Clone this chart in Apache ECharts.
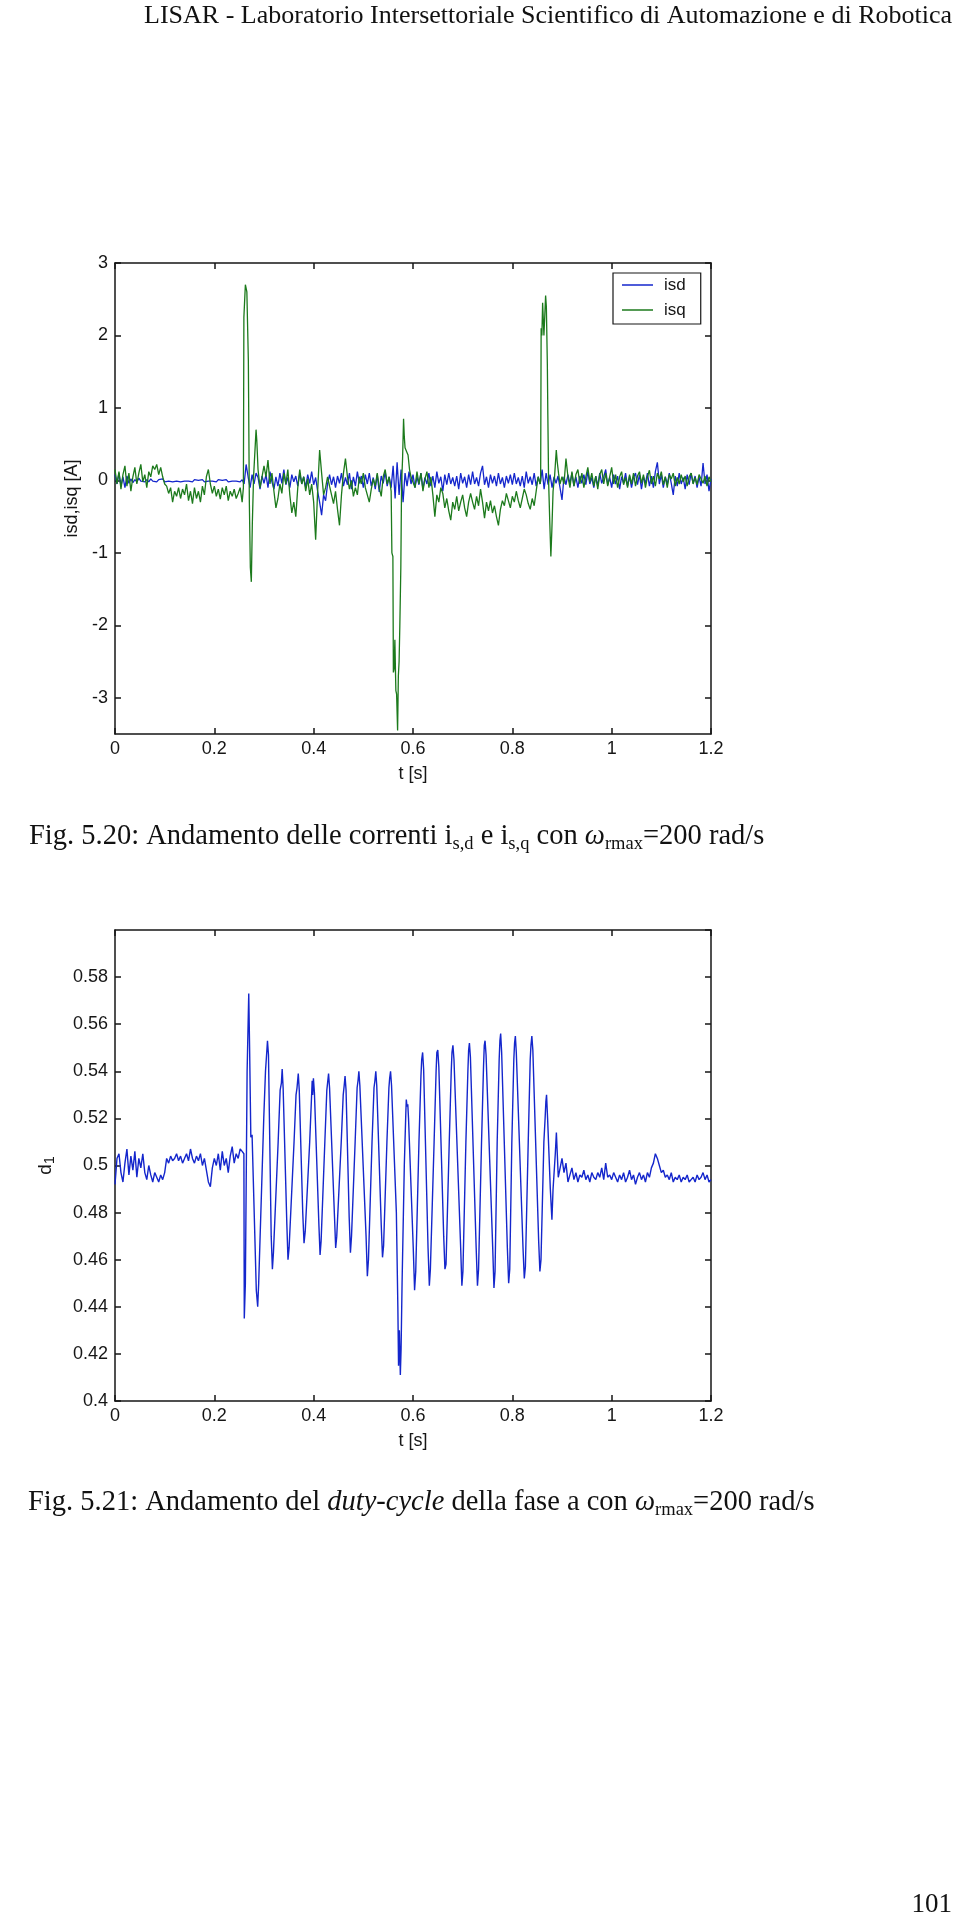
<!DOCTYPE html>
<html>
<head>
<meta charset="utf-8">
<script src="https://cdn.jsdelivr.net/npm/echarts@6/dist/echarts.min.js"></script>
<style>
html,body{margin:0;padding:0;background:#fff;}
#chart{width:960px;height:1920px;}
</style>
</head>
<body>
<div id="chart"></div>
<script>
// ---------------- DATA ----------------
const T_STEP = 0.004; // sampling step of the uniform arrays [s]
const xTicks = [0, 0.2, 0.4, 0.6, 0.8, 1, 1.2];
const yTicksCurrents = [-3, -2, -1, 0, 1, 2, 3];
const seriesNames = ['isd', 'isq'];

// isd [A], sampled every 4 ms from t = 0
const isdValues = [
 0.08,-0.05,0.1,-0.08,0.05,-0.1,0.06,-0.04,0.02,-0.03,
 0.01,-0.02,0.03,-0.01,0.0,-0.02,0.01,-0.02,0.02,-0.01,
 0.0,-0.02,0.01,-0.01,0.02,-0.02,0.0,-0.01,0.01,-0.02,
 0.0,-0.01,0.01,-0.02,0.0,-0.01,0.01,-0.01,0.0,-0.02,
 0.01,-0.01,0.0,-0.01,0.01,-0.02,0.0,-0.01,0.01,-0.01,
 0.0,-0.02,0.01,-0.01,0.0,-0.01,0.01,-0.02,0.0,-0.01,
 0.01,-0.01,0.0,-0.02,0.01,-0.05,0.22,0.05,-0.1,0.08,
 -0.05,0.1,0.04,-0.12,0.06,-0.04,0.08,-0.1,0.12,-0.02,
 -0.12,0.05,-0.08,0.1,-0.04,0.15,-0.06,0.04,-0.1,0.08,
 -0.02,0.06,-0.08,0.1,-0.05,0.05,-0.1,0.08,-0.04,0.12,
 -0.06,0.04,-0.15,-0.3,-0.48,-0.2,-0.28,-0.05,0.08,-0.06,
 0.05,-0.1,0.06,-0.04,0.1,-0.08,0.04,-0.06,0.1,-0.12,
 0.05,-0.08,0.12,-0.04,0.06,-0.1,0.08,-0.05,0.1,-0.08,
 0.04,-0.12,0.08,-0.16,0.06,-0.04,0.12,-0.08,0.05,-0.1,
 0.2,-0.25,0.25,-0.2,0.15,-0.3,0.1,-0.08,0.12,-0.05,
 0.08,-0.1,0.05,-0.06,0.1,-0.12,0.04,-0.05,0.1,-0.08,
 0.06,-0.1,0.12,-0.04,0.05,-0.15,0.08,-0.06,0.1,-0.05,
 0.04,-0.08,0.06,-0.12,0.1,-0.04,0.05,-0.1,0.08,-0.06,
 0.12,-0.05,0.04,-0.08,0.1,0.2,-0.06,0.05,-0.1,0.08,
 -0.04,0.06,-0.08,0.1,-0.05,0.04,-0.1,0.06,-0.04,0.08,
 -0.06,0.1,-0.05,0.04,-0.08,0.06,-0.1,0.12,-0.04,0.05,
 -0.06,0.1,-0.08,0.05,-0.05,0.15,-0.12,0.1,-0.06,0.08,
 -0.1,0.05,-0.04,0.06,-0.1,-0.27,0.05,-0.06,0.08,-0.04,
 0.1,-0.08,0.05,-0.1,0.06,-0.04,0.08,-0.06,0.12,-0.05,
 0.04,-0.1,0.06,-0.08,0.1,-0.04,0.05,0.15,-0.06,0.04,
 -0.1,0.08,-0.05,0.06,-0.12,0.05,-0.04,0.1,-0.08,0.06,
 -0.1,0.04,0.1,-0.06,0.08,-0.12,0.05,-0.04,0.1,-0.08,
 0.06,-0.1,0.12,0.25,-0.05,0.08,-0.1,0.05,-0.06,0.1,
 -0.04,-0.2,0.06,-0.08,0.1,-0.05,0.04,-0.12,0.08,-0.06,
 0.1,-0.04,0.06,-0.1,0.05,-0.08,0.24,-0.05,0.08,-0.15,
 0.02
];

// isq [A], sampled every 4 ms from t = 0 (null where the fast transients are given below)
const isqValues = [
 0.15,-0.05,0.12,-0.12,0.08,0.2,-0.08,0.1,-0.15,0.05,
 0.18,-0.05,0.1,0.22,-0.02,0.08,-0.1,0.12,0.05,0.2,
 0.15,0.22,0.08,0.18,0.05,-0.05,-0.08,-0.18,-0.1,-0.3,
 -0.15,-0.22,-0.1,-0.25,-0.12,-0.2,-0.05,-0.28,-0.15,-0.32,
 -0.1,-0.25,-0.15,-0.3,-0.08,-0.2,0.05,0.15,-0.05,-0.18,
 -0.08,-0.22,-0.12,-0.26,-0.1,-0.2,-0.08,-0.28,-0.15,-0.22,
 -0.12,-0.25,-0.18,-0.1,-0.3,null,null,null,null,null,
 null,null,null,-0.1,0.05,0.2,0.05,0.28,-0.05,0.1,
 -0.15,-0.38,-0.25,-0.05,-0.18,0.1,-0.05,0.15,-0.2,-0.45,
 -0.3,-0.5,-0.1,0.15,-0.05,0.05,-0.15,0.02,-0.2,-0.05,
 -0.3,-0.82,-0.15,0.42,0.1,-0.2,-0.1,0.05,-0.08,-0.2,
 -0.32,-0.15,-0.4,-0.62,-0.2,0.1,0.3,0.05,-0.12,0.0,
 -0.22,-0.1,-0.2,0.05,-0.05,0.1,-0.1,-0.2,-0.3,-0.12,
 0.02,-0.08,0.1,-0.1,-0.22,0.05,0.15,-0.05,0.05,-0.15,
 null,null,null,null,null,null,null,null,null,null,
 0.05,-0.1,0.12,-0.05,0.1,-0.15,0.02,0.12,-0.1,0.05,
 -0.2,-0.5,-0.2,-0.3,-0.1,-0.18,-0.38,-0.25,-0.42,-0.55,
 -0.3,-0.4,-0.22,-0.42,-0.3,-0.2,-0.38,-0.5,-0.3,-0.18,
 -0.3,-0.4,-0.22,-0.35,-0.12,-0.3,-0.52,-0.3,-0.42,-0.28,
 -0.45,-0.35,-0.5,-0.62,-0.4,-0.28,-0.35,-0.18,-0.28,-0.38,
 -0.22,-0.3,-0.15,-0.28,-0.38,-0.25,-0.12,-0.2,-0.32,-0.4,
 -0.25,-0.35,-0.15,0.05,-0.05,null,null,null,null,null,
 null,null,null,null,null,0.05,-0.05,0.3,0.05,-0.1,
 0.12,-0.08,0.08,0.15,-0.05,0.1,-0.1,0.05,0.18,-0.02,
 0.1,-0.08,0.06,-0.12,0.08,0.15,-0.05,0.1,-0.08,0.05,
 0.18,-0.05,0.08,-0.1,0.05,0.12,-0.06,0.04,-0.1,0.08,
 -0.05,0.1,-0.08,0.06,0.12,-0.04,0.08,-0.1,0.05,0.14,
 -0.05,0.06,-0.08,0.1,0.02,0.12,-0.06,0.05,-0.1,0.08,
 0.02,0.1,-0.08,0.04,-0.05,0.08,-0.02,0.06,-0.08,0.05,
 0.1,-0.05,0.04,-0.06,0.08,0.02,-0.04,0.06,-0.08,0.05,
 -0.02
];

// isq fast transients [t, A]
const isqTransients = [
 [0.2585,-0.1],[0.2595,2.25],[0.2625,2.7],[0.2635,2.72],[0.2655,2.6],[0.2685,1.65],
 [0.2705,-0.3],[0.2725,-1.2],[0.2745,-1.4],[0.2765,-0.6],[0.279,0.05],[0.2825,0.5],
 [0.284,0.7],[0.2855,0.55],[0.288,0.15],
 [0.5575,-1.0],[0.5595,-1.05],[0.5605,-2.65],[0.562,-2.6],[0.5635,-2.2],[0.5655,-2.9],
 [0.567,-2.95],[0.569,-3.45],[0.5705,-2.7],[0.572,-2.5],[0.5735,-2.0],[0.5755,-1.2],
 [0.577,-0.05],[0.579,0.3],[0.581,0.85],[0.5825,0.6],[0.584,0.45],[0.587,0.4],
 [0.59,0.35],[0.593,0.15],[0.596,0.05],
 [0.857,0.0],[0.858,2.1],[0.8595,2.0],[0.861,2.45],[0.8625,2.2],[0.8636,2.0],
 [0.8655,2.3],[0.867,2.55],[0.8685,2.4],[0.8705,1.6],[0.8715,0.9],[0.873,0.0],
 [0.8755,-0.6],[0.8776,-1.05],[0.8795,-0.7],[0.882,-0.15],[0.885,0.05],[0.8885,0.42],
 [0.8905,0.25],[0.893,0.1],[0.896,-0.05]
];

// d1 duty cycle: before the transient, every 4 ms from t = 0
const d1Before = [
 0.492,0.503,0.505,0.497,0.493,0.501,0.507,0.496,0.504,0.498,
 0.506,0.495,0.503,0.499,0.505,0.497,0.494,0.5,0.496,0.493,
 0.497,0.495,0.493,0.496,0.494,0.497,0.503,0.501,0.504,0.502,
 0.503,0.505,0.502,0.504,0.501,0.503,0.505,0.502,0.507,0.503,
 0.501,0.504,0.502,0.505,0.5,0.503,0.498,0.493,0.491,0.499,
 0.503,0.5,0.505,0.498,0.506,0.5,0.503,0.497,0.504,0.508,
 0.501,0.505,0.503,0.507,0.506
];
// d1 oscillating part [t, d1]
const d1Oscillation = [
 [0.2595,0.505],[0.2603,0.435],[0.2625,0.45],[0.266,0.54],[0.2693,0.573],[0.271,0.55],[0.2735,0.512],[0.276,0.513],
 [0.2845,0.447],[0.2873,0.440],[0.2893,0.45],
 [0.2995,0.52],[0.303,0.54],[0.3055,0.548],[0.307,0.553],[0.309,0.547],
 [0.3145,0.47],[0.3169,0.456],[0.319,0.463],
 [0.3285,0.51],[0.3325,0.532],[0.335,0.535],[0.3366,0.541],[0.3385,0.533],
 [0.346,0.475],[0.3483,0.460],[0.3505,0.465],
 [0.3605,0.51],[0.3645,0.53],[0.3665,0.533],[0.369,0.539],[0.371,0.532],
 [0.378,0.48],[0.3806,0.467],[0.383,0.472],
 [0.392,0.51],[0.3955,0.528],[0.397,0.536],[0.398,0.53],[0.3995,0.537],[0.4015,0.531],
 [0.4105,0.475],[0.4129,0.462],[0.415,0.468],
 [0.4225,0.51],[0.4265,0.532],[0.428,0.535],[0.43,0.539],[0.432,0.533],
 [0.442,0.478],[0.4443,0.465],[0.4465,0.47],
 [0.4555,0.51],[0.4595,0.53],[0.4615,0.534],[0.4632,0.538],[0.4652,0.532],
 [0.4715,0.478],[0.474,0.463],[0.4762,0.47],
 [0.4835,0.51],[0.4875,0.533],[0.4893,0.536],[0.491,0.54],[0.493,0.534],
 [0.5055,0.47],[0.5081,0.453],[0.5103,0.46],
 [0.5175,0.51],[0.5215,0.533],[0.5233,0.536],[0.5251,0.540],[0.527,0.534],
 [0.536,0.475],[0.5386,0.461],[0.5408,0.466],
 [0.5475,0.51],[0.5515,0.533],[0.553,0.537],[0.5548,0.540],[0.5568,0.534],
 [0.5665,0.48],[0.5695,0.44],[0.5709,0.415],[0.5725,0.43],[0.5745,0.411],[0.576,0.422],[0.578,0.45],
 [0.5825,0.5],[0.5855,0.522],[0.5865,0.528],[0.588,0.525],[0.5895,0.526],[0.591,0.52],
 [0.6005,0.465],[0.6032,0.447],[0.6055,0.455],
 [0.612,0.51],[0.616,0.538],[0.6175,0.545],[0.6194,0.548],[0.6214,0.541],
 [0.6303,0.465],[0.6329,0.449],[0.635,0.456],
 [0.6425,0.51],[0.6465,0.54],[0.648,0.548],[0.6499,0.549],[0.652,0.542],
 [0.6618,0.47],[0.6643,0.456],[0.6665,0.458],
 [0.673,0.51],[0.677,0.54],[0.6785,0.548],[0.6804,0.551],[0.6825,0.545],
 [0.696,0.465],[0.6984,0.449],[0.7005,0.455],
 [0.7065,0.51],[0.7105,0.54],[0.712,0.549],[0.7136,0.552],[0.7156,0.546],
 [0.7272,0.465],[0.7298,0.449],[0.732,0.456],
 [0.738,0.51],[0.742,0.542],[0.7435,0.551],[0.7451,0.553],[0.7471,0.547],
 [0.7605,0.465],[0.763,0.448],[0.7652,0.455],
 [0.7695,0.51],[0.7735,0.545],[0.775,0.553],[0.7765,0.556],[0.7785,0.548],
 [0.79,0.465],[0.7926,0.45],[0.7948,0.456],
 [0.799,0.51],[0.803,0.545],[0.8045,0.552],[0.8061,0.555],[0.808,0.548],
 [0.8215,0.465],[0.8241,0.452],[0.8263,0.457],
 [0.832,0.51],[0.836,0.545],[0.8375,0.551],[0.8393,0.555],[0.8413,0.549],
 [0.853,0.468],[0.8555,0.455],[0.8577,0.46],
 [0.8635,0.51],[0.866,0.52],[0.8675,0.527],[0.8689,0.530],[0.871,0.52],
 [0.8765,0.49],[0.8797,0.477],[0.882,0.49],
 [0.8865,0.505],[0.8887,0.514],[0.8905,0.505],[0.8925,0.495]
];
// d1 after the transient, every 4 ms from t = 0.896
const d1AfterStart = 0.896;
const d1After = [
 0.495,0.503,0.497,0.501,0.493,0.496,0.499,0.494,0.497,0.493,
 0.496,0.495,0.498,0.494,0.496,0.493,0.497,0.495,0.494,0.497,
 0.495,0.499,0.494,0.501,0.495,0.496,0.494,0.497,0.495,0.493,
 0.496,0.494,0.497,0.493,0.495,0.498,0.494,0.496,0.492,0.495,
 0.497,0.494,0.496,0.493,0.497,0.495,0.499,0.501,0.505,0.503,
 0.5,0.497,0.498,0.495,0.496,0.494,0.497,0.493,0.495,0.494,
 0.496,0.493,0.495,0.494,0.496,0.493,0.494,0.495,0.493,0.496,
 0.494,0.495,0.497,0.494,0.496,0.493,0.494
];

// ---------------- BUILD ----------------
function uniform(values, t0) {
  const out = [];
  values.forEach((v, i) => { if (v !== null) out.push([+(t0 + i * T_STEP).toFixed(4), v]); });
  return out;
}
function merge() {
  return [].concat(...arguments).sort((a, b) => a[0] - b[0]);
}
const isdData = uniform(isdValues, 0);
const isqData = merge(uniform(isqValues, 0), isqTransients);
const d1Data = merge(uniform(d1Before, 0), d1Oscillation, uniform(d1After, d1AfterStart));

const SANS = '"Liberation Sans", Arial, sans-serif';
const SERIF = '"Liberation Serif", "Times New Roman", serif';
const INK = '#161616';
const BLUE = '#1426cc';
const GREEN = '#1c7a1c';

const axisLineStyle = { color: INK, width: 1.5 };
function xAx(gridIndex, pos, withLabels, name) {
  return {
    type: 'value', gridIndex, position: pos, min: 0, max: 1.2, interval: 0.2,
    name: withLabels ? name : '', nameLocation: 'middle', nameGap: 31,
    nameTextStyle: { fontFamily: SANS, fontSize: 18, color: INK },
    axisLine: { show: true, onZero: false, lineStyle: axisLineStyle },
    axisTick: { show: true, inside: true, length: 6, lineStyle: axisLineStyle },
    axisLabel: { show: withLabels, fontFamily: SANS, fontSize: 18, color: INK, margin: 6 },
    splitLine: { show: false }
  };
}
const option = {
  backgroundColor: '#ffffff',
  animation: false,
  grid: [
    { left: 115, top: 263, width: 596, height: 471 },
    { left: 115, top: 930, width: 596, height: 471 }
  ],
  xAxis: [
    xAx(0, 'bottom', true, 't [s]'),
    xAx(0, 'top', false),
    xAx(1, 'bottom', true, 't [s]'),
    xAx(1, 'top', false)
  ],
  yAxis: [
    {
      type: 'value', gridIndex: 0, position: 'left', min: -3.5, max: 3,
      name: 'isd,isq [A]', nameLocation: 'middle', nameRotate: 90, nameGap: 33,
      nameTextStyle: { fontFamily: SANS, fontSize: 18, color: INK },
      axisLine: { show: true, onZero: false, lineStyle: axisLineStyle },
      axisTick: { show: true, inside: true, length: 6, lineStyle: axisLineStyle, customValues: yTicksCurrents },
      axisLabel: { fontFamily: SANS, fontSize: 18, color: INK, margin: 7, customValues: yTicksCurrents },
      splitLine: { show: false }
    },
    {
      type: 'value', gridIndex: 0, position: 'right', min: -3.5, max: 3,
      axisLine: { show: true, onZero: false, lineStyle: axisLineStyle },
      axisTick: { show: true, inside: true, length: 6, lineStyle: axisLineStyle, customValues: yTicksCurrents },
      axisLabel: { show: false },
      splitLine: { show: false }
    },
    {
      type: 'value', gridIndex: 1, position: 'left', min: 0.4, max: 0.6, interval: 0.02,
      name: '{d|d}{s|1}', nameLocation: 'middle', nameRotate: 90, nameGap: 58,
      nameTextStyle: {
        fontFamily: SANS, fontSize: 18, color: INK,
        rich: {
          d: { fontFamily: SANS, fontSize: 19, color: INK, lineHeight: 22, verticalAlign: 'middle' },
          s: { fontFamily: SANS, fontSize: 14, color: INK, lineHeight: 12, verticalAlign: 'bottom' }
        }
      },
      axisLine: { show: true, onZero: false, lineStyle: axisLineStyle },
      axisTick: { show: true, inside: true, length: 6, lineStyle: axisLineStyle },
      axisLabel: { fontFamily: SANS, fontSize: 18, color: INK, margin: 7, showMaxLabel: false },
      splitLine: { show: false }
    },
    {
      type: 'value', gridIndex: 1, position: 'right', min: 0.4, max: 0.6, interval: 0.02,
      axisLine: { show: true, onZero: false, lineStyle: axisLineStyle },
      axisTick: { show: true, inside: true, length: 6, lineStyle: axisLineStyle },
      axisLabel: { show: false },
      splitLine: { show: false }
    }
  ],
  legend: {
    data: seriesNames,
    orient: 'vertical', left: 613, top: 273,
    icon: 'rect', itemWidth: 31, itemHeight: 1.5,
    padding: [2, 15, 4, 9], itemGap: 5,
    backgroundColor: '#ffffff', borderColor: INK, borderWidth: 1.2, borderRadius: 0,
    textStyle: { fontFamily: SANS, fontSize: 17, color: INK, lineHeight: 20, padding: [0, 0, 0, 6] }
  },
  series: [
    {
      name: seriesNames[0], type: 'line', xAxisIndex: 0, yAxisIndex: 0, data: isdData,
      symbol: 'none', showSymbol: false, color: BLUE,
      lineStyle: { color: BLUE, width: 1.3 }, z: 2
    },
    {
      name: seriesNames[1], type: 'line', xAxisIndex: 0, yAxisIndex: 0, data: isqData,
      symbol: 'none', showSymbol: false, color: GREEN,
      lineStyle: { color: GREEN, width: 1.3 }, z: 3
    },
    {
      name: 'd1', type: 'line', xAxisIndex: 2, yAxisIndex: 2, data: d1Data,
      symbol: 'none', showSymbol: false, color: BLUE,
      lineStyle: { color: BLUE, width: 1.4 }, z: 2
    }
  ],
  graphic: [
    {
      type: 'text', x: 952, y: 16,
      style: { text: 'LISAR - Laboratorio Intersettoriale Scientifico di Automazione e di Robotica',
        font: '26px ' + SERIF, fill: '#111', align: 'right', verticalAlign: 'middle' }
    },
    {
      type: 'text', x: 29, y: 837,
      style: {
        text: '{n|Fig. 5.20: Andamento delle correnti i}{s|s,d}{n| e i}{s|s,q}{n| con }{w|ω}{s|rmax}{n|=200 rad/s}',
        fill: '#111', align: 'left', verticalAlign: 'middle',
        rich: {
          n: { fontFamily: SERIF, fontSize: 28.5, lineHeight: 34, verticalAlign: 'middle', fill: '#111' },
          w: { fontFamily: SERIF, fontSize: 28.5, fontStyle: 'italic', lineHeight: 34, verticalAlign: 'middle', fill: '#111' },
          s: { fontFamily: SERIF, fontSize: 18.5, lineHeight: 16, verticalAlign: 'bottom', fill: '#111' }
        }
      }
    },
    {
      type: 'text', x: 28, y: 1503,
      style: {
        text: '{n|Fig. 5.21: Andamento del }{i|duty-cycle}{n| della fase a con }{w|ω}{s|rmax}{n|=200 rad/s}',
        fill: '#111', align: 'left', verticalAlign: 'middle',
        rich: {
          n: { fontFamily: SERIF, fontSize: 28.5, lineHeight: 34, verticalAlign: 'middle', fill: '#111' },
          i: { fontFamily: SERIF, fontSize: 28.5, fontStyle: 'italic', lineHeight: 34, verticalAlign: 'middle', fill: '#111' },
          w: { fontFamily: SERIF, fontSize: 28.5, fontStyle: 'italic', lineHeight: 34, verticalAlign: 'middle', fill: '#111' },
          s: { fontFamily: SERIF, fontSize: 18.5, lineHeight: 16, verticalAlign: 'bottom', fill: '#111' }
        }
      }
    },
    {
      type: 'text', x: 952, y: 1905,
      style: { text: '101', font: '27px ' + SERIF, fill: '#111', align: 'right', verticalAlign: 'middle' }
    }
  ]
};
const chart = echarts.init(document.getElementById('chart'), null, { renderer: 'canvas' });
chart.setOption(option);
</script>
</body>
</html>
